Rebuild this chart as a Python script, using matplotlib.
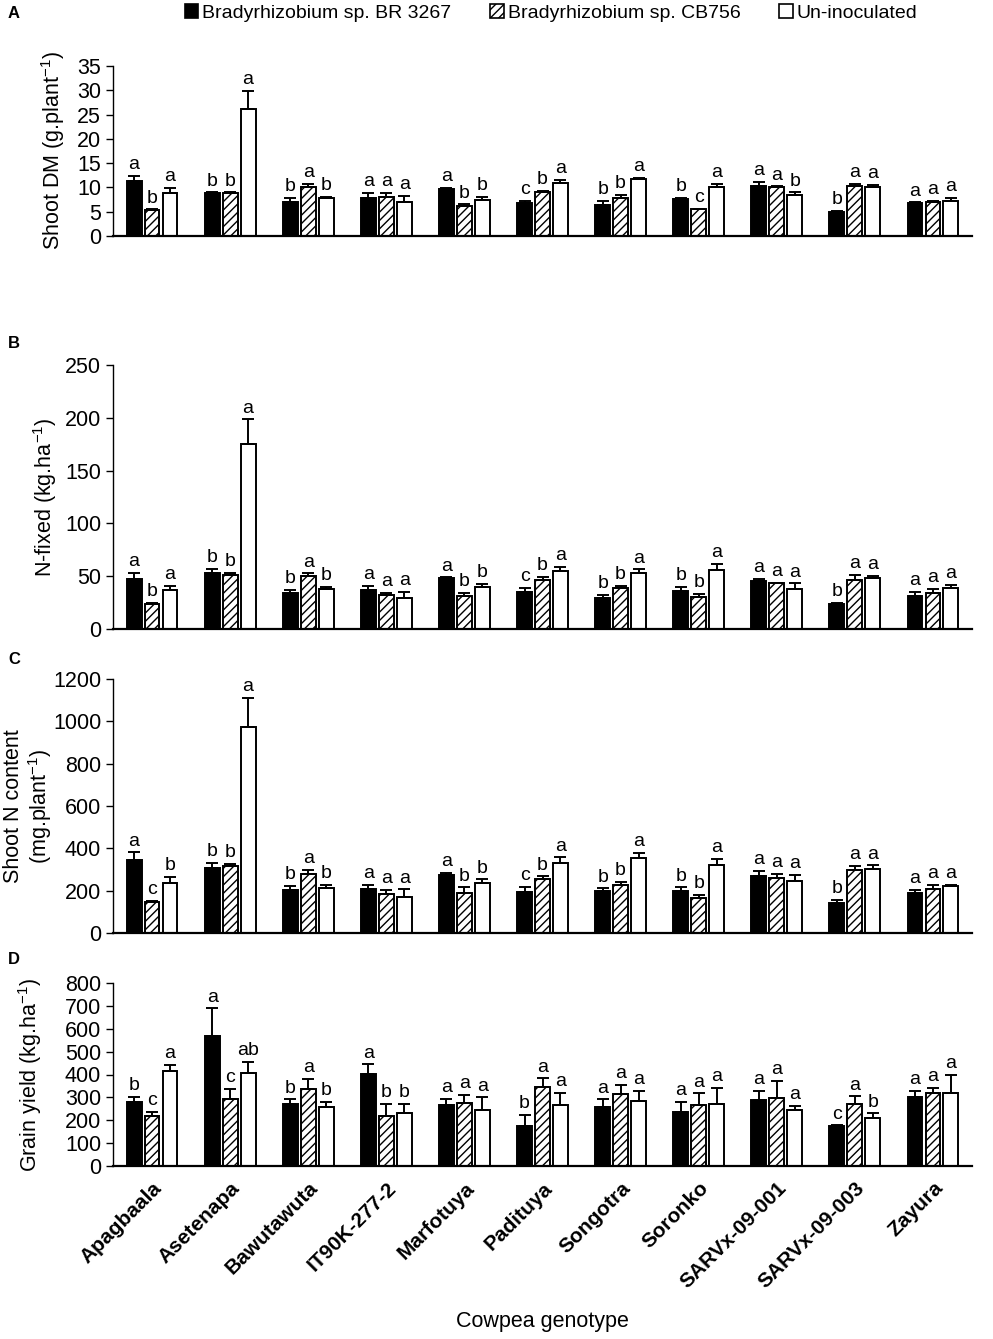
import numpy as np
import matplotlib
matplotlib.use("Agg")
import matplotlib.pyplot as plt
from matplotlib.patches import Patch

plt.rcParams['font.family'] = ['Liberation Sans', 'DejaVu Sans']
plt.rcParams['hatch.linewidth'] = 1.0

genotypes = ['Apagbaala', 'Asetenapa', 'Bawutawuta', 'IT90K-277-2', 'Marfotuya',
             'Padituya', 'Songotra', 'Soronko', 'SARVx-09-001', 'SARVx-09-003', 'Zayura']
series_names = ['Bradyrhizobium sp. BR 3267', 'Bradyrhizobium sp. CB756', 'Un-inoculated']

# Panel A: shoot dry matter (g/plant)
dm_br = [11.3, 8.8, 6.9, 7.9, 9.6, 6.8, 6.4, 7.7, 10.3, 4.9, 6.8]
dm_br_err = [1.0, 0.2, 1.0, 0.9, 0.3, 0.4, 0.8, 0.1, 0.8, 0.2, 0.1]
dm_cb = [5.3, 8.8, 10.0, 8.0, 6.2, 9.0, 7.9, 5.5, 10.0, 10.3, 6.9]
dm_cb_err = [0.2, 0.2, 0.7, 0.8, 0.3, 0.3, 0.6, 0.1, 0.2, 0.5, 0.3]
dm_un = [8.9, 26.1, 7.9, 7.0, 7.4, 11.0, 11.7, 10.1, 8.5, 10.1, 7.2]
dm_un_err = [1.0, 3.7, 0.2, 1.3, 0.6, 0.6, 0.2, 0.6, 0.5, 0.5, 0.7]
dm_letters = [['a', 'b', 'b', 'a', 'a', 'c', 'b', 'b', 'a', 'b', 'a'],
              ['b', 'b', 'a', 'a', 'b', 'b', 'b', 'c', 'a', 'a', 'a'],
              ['a', 'a', 'b', 'a', 'b', 'a', 'a', 'a', 'b', 'a', 'a']]

# Panel B: N fixed (kg/ha)
nf_br = [47.6, 52.7, 33.9, 37.0, 48.3, 35.1, 29.8, 36.0, 45.5, 24.1, 31.3]
nf_br_err = [5.6, 4.4, 2.8, 3.8, 0.5, 4.1, 2.5, 3.8, 2.2, 0.3, 3.8]
nf_cb = [24.0, 51.0, 50.2, 32.0, 31.3, 46.4, 38.6, 30.4, 43.3, 46.4, 34.5]
nf_cb_err = [0.5, 2.3, 2.5, 2.5, 3.2, 2.8, 2.5, 3.1, 0.6, 4.7, 3.8]
nf_un = [36.7, 175.0, 38.2, 29.8, 40.1, 54.9, 52.7, 55.5, 38.2, 48.0, 39.2]
nf_un_err = [4.0, 23.5, 1.9, 5.6, 2.9, 3.8, 3.8, 6.3, 5.0, 2.2, 2.5]
nf_letters = [['a', 'b', 'b', 'a', 'a', 'c', 'b', 'b', 'a', 'b', 'a'],
              ['b', 'b', 'a', 'a', 'b', 'b', 'b', 'b', 'a', 'a', 'a'],
              ['a', 'a', 'b', 'a', 'b', 'a', 'a', 'a', 'a', 'a', 'a']]

# Panel C: shoot N content (mg/plant)
nc_br = [345, 305, 202, 210, 273, 194, 197, 199, 268, 142, 189]
nc_br_err = [36, 27, 21, 16, 11, 24, 14, 16, 27, 13, 13]
nc_cb = [147, 317, 278, 186, 191, 254, 226, 166, 262, 297, 208]
nc_cb_err = [3, 10, 19, 16, 24, 13, 17, 14, 16, 19, 18]
nc_un = [234, 973, 213, 171, 237, 332, 352, 321, 246, 303, 221]
nc_un_err = [30, 137, 13, 35, 16, 25, 27, 28, 30, 16, 8]
nc_letters = [['a', 'b', 'b', 'a', 'a', 'c', 'b', 'b', 'a', 'b', 'a'],
              ['c', 'b', 'a', 'a', 'b', 'b', 'b', 'b', 'a', 'a', 'a'],
              ['b', 'a', 'b', 'a', 'b', 'a', 'a', 'a', 'a', 'a', 'a']]

# Panel D: grain yield (kg/ha)
gy_br = [278, 569, 269, 402, 265, 177, 259, 235, 288, 175, 300]
gy_br_err = [23, 120, 22, 42, 29, 45, 32, 46, 42, 3, 27]
gy_cb = [218, 291, 335, 218, 276, 346, 314, 266, 298, 272, 317]
gy_cb_err = [19, 45, 45, 53, 35, 37, 40, 51, 75, 32, 25]
gy_un = [417, 408, 257, 230, 246, 266, 284, 269, 243, 209, 317]
gy_un_err = [25, 48, 24, 41, 54, 54, 43, 73, 20, 21, 81]
gy_letters = [['b', 'a', 'b', 'a', 'a', 'b', 'a', 'a', 'a', 'c', 'a'],
              ['c', 'c', 'a', 'b', 'a', 'a', 'a', 'a', 'a', 'a', 'a'],
              ['a', 'ab', 'b', 'b', 'a', 'a', 'a', 'a', 'a', 'b', 'a']]

STYLES = [dict(facecolor='black', hatch=None),
          dict(facecolor='white', hatch='////'),
          dict(facecolor='white', hatch=None)]

FS = 14
TICK_FS = 15.5


def draw_panel(ax, vals, errs, letters, ymax, ystep, ylabel, label_x):
    x = np.arange(len(genotypes))
    offsets = [-0.23, 0.0, 0.23]
    for k in range(3):
        xs = x + offsets[k]
        ax.bar(xs, vals[k], width=0.19, edgecolor='black', linewidth=1.4,
               zorder=2, **STYLES[k])
        ax.errorbar(xs, vals[k], yerr=[np.zeros(len(xs)), errs[k]], fmt='none',
                    ecolor='black', elinewidth=1.4, capsize=4.5, capthick=1.4,
                    zorder=3)
        for xi, v, e, lab in zip(xs, vals[k], errs[k], letters[k]):
            ax.annotate(lab, xy=(xi, v + e), xytext=(0, 2),
                        textcoords='offset points', ha='center', va='bottom',
                        fontsize=FS)
    ax.set_xlim(-0.5, len(genotypes) - 0.5)
    ax.set_ylim(0, ymax)
    ax.set_yticks(np.arange(0, ymax + ystep / 2, ystep))
    ax.tick_params(axis='y', labelsize=TICK_FS, length=5, width=1, direction='out')
    ax.tick_params(axis='x', length=0)
    ax.set_xticks(x)
    ax.set_xticklabels([])
    for s in ['top', 'right']:
        ax.spines[s].set_visible(False)
    ax.spines['left'].set_linewidth(1.0)
    ax.spines['bottom'].set_linewidth(1.6)
    ax.set_ylabel(ylabel, fontsize=TICK_FS, linespacing=1.1)
    ax.yaxis.set_label_coords(label_x, 0.5)


fig = plt.figure(figsize=(9.93, 13.39), dpi=100)
W, H = 993.0, 1339.0


def add_axes(top_px, bottom_px):
    return fig.add_axes([113 / W, 1 - bottom_px / H, 859 / W, (bottom_px - top_px) / H])


axA = add_axes(66, 236)
axB = add_axes(365, 629)
axC = add_axes(679, 933)
axD = add_axes(983, 1166)

sup = r'$^{\mathregular{-1}}$'
draw_panel(axA, [dm_br, dm_cb, dm_un], [dm_br_err, dm_cb_err, dm_un_err], dm_letters,
           35, 5, 'Shoot DM (g.plant' + sup + ')', -0.054)
draw_panel(axB, [nf_br, nf_cb, nf_un], [nf_br_err, nf_cb_err, nf_un_err], nf_letters,
           250, 50, 'N-fixed (kg.ha' + sup + ')', -0.063)
draw_panel(axC, [nc_br, nc_cb, nc_un], [nc_br_err, nc_cb_err, nc_un_err], nc_letters,
           1200, 200, 'Shoot N content\n(mg.plant' + sup + ')', -0.069)
draw_panel(axD, [gy_br, gy_cb, gy_un], [gy_br_err, gy_cb_err, gy_un_err], gy_letters,
           800, 100, 'Grain yield (kg.ha' + sup + ')', -0.080)

axD.set_xticklabels(genotypes, rotation=45, ha='right', rotation_mode='anchor',
                    fontsize=15, fontweight='bold')
axD.tick_params(axis='x', pad=9)
axD.set_xlabel('Cowpea genotype', fontsize=TICK_FS, labelpad=14)

for lab, y in zip('ABCD', [13, 343, 660, 960]):
    fig.text(8 / W, 1 - y / H, lab, fontsize=12, fontweight='bold', va='center')

handles = [Patch(facecolor='black', edgecolor='black', linewidth=1.2),
           Patch(facecolor='white', edgecolor='black', hatch='////', linewidth=1.2),
           Patch(facecolor='white', edgecolor='black', linewidth=1.2)]
fig.legend(handles, series_names, loc='center', bbox_to_anchor=(551 / W, 1 - 13 / H),
           ncol=3, frameon=False, fontsize=FS, handlelength=0.7, handleheight=0.7,
           handletextpad=0.2, columnspacing=2.0)

fig.savefig('out.png', dpi=100)
